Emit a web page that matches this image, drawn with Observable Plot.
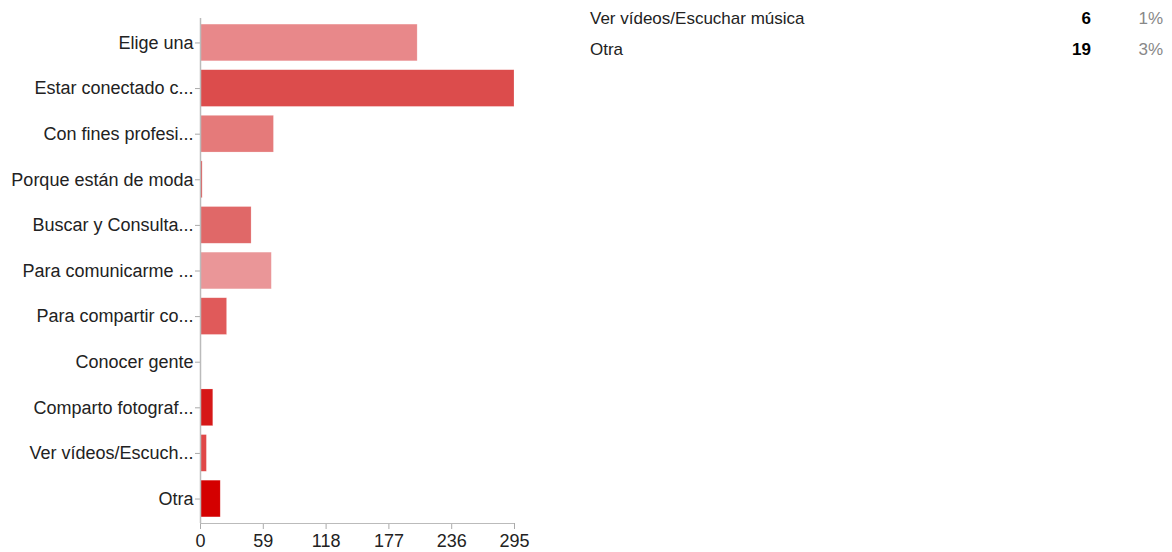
<!DOCTYPE html>
<html>
<head>
<meta charset="utf-8">
<script src="https://cdn.jsdelivr.net/npm/d3@7"></script>
<script src="https://cdn.jsdelivr.net/npm/@observablehq/plot@0.6"></script>
<style>
  html, body { margin: 0; padding: 0; background: #fff; }
  body { width: 1172px; height: 552px; position: relative; overflow: hidden; font-family: "Liberation Sans", Arial, sans-serif; }
  #chart { position: absolute; left: 0; top: 0; }
  #table { position: absolute; left: 590px; top: 6px; width: 575px; font-size: 17px; color: #222; }
  .row { position: relative; height: 31px; line-height: 26px; }
  .row .lab { position: absolute; left: 0; }
  .row .cnt { position: absolute; right: 74px; font-weight: bold; color: #000; }
  .row .pct { position: absolute; right: 2px; color: #888; }
</style>
</head>
<body>
<div id="chart"></div>
<div id="table"></div>
<script>
const categories = [
  "Elige una",
  "Estar conectado c...",
  "Con fines profesi...",
  "Porque están de moda",
  "Buscar y Consulta...",
  "Para comunicarme ...",
  "Para compartir co...",
  "Conocer gente",
  "Comparto fotograf...",
  "Ver vídeos/Escuch...",
  "Otra"
];
const values = [204, 295, 69, 2, 48, 67, 25, 0, 12, 6, 19];
const colors = ["#e8888a", "#dc4c4c", "#e57a7a", "#e05050", "#e06868", "#ea9698", "#e05a5a", "#ffffff", "#d61818", "#e04848", "#d40000"];
const xTicks = [0, 59, 118, 177, 236, 295];

const tableLabels = ["Ver vídeos/Escuchar música", "Otra"];
const tableCounts = [6, 19];
const tablePcts = ["1%", "3%"];

const data = categories.map((c, i) => ({cat: c, value: values[i], color: colors[i]}));

const W = 560, H = 552, mB = 29;
const plot = Plot.plot({
  width: W,
  height: H,
  marginLeft: 200,
  marginRight: 46,
  marginTop: 18,
  marginBottom: mB,
  style: {fontFamily: "'Liberation Sans', Arial, sans-serif", fontSize: "18px", color: "#222", background: "#fff"},
  x: {domain: [0, 295], ticks: xTicks, tickFormat: d => d, label: null},
  y: {domain: categories, label: null, paddingInner: 0.195, paddingOuter: 0.134, round: false},
  marks: [
    Plot.barX(data, {y: "cat", x: "value", fill: "color", stroke: "#fff", strokeOpacity: 0.35, strokeWidth: 0.6}),
    Plot.axisY({tickSize: 5, tickPadding: 2, stroke: "#aaa", fontSize: 18, fill: "#222", label: null}),
    Plot.axisX({ticks: xTicks, tickSize: 6, tickPadding: 5, stroke: "#aaa", fontSize: 18, fill: "#222", label: null}),
    Plot.ruleX([0], {stroke: "#bbb", strokeWidth: 1.5})
  ]
});
document.getElementById("chart").appendChild(plot);

// bottom axis baseline drawn through the x scale
const xs = plot.scale("x");
d3.select(plot).append("line")
  .attr("x1", xs.apply(0)).attr("x2", xs.apply(295))
  .attr("y1", H - mB + 0.5).attr("y2", H - mB + 0.5)
  .attr("stroke", "#bbb").attr("stroke-width", 1.2);

const table = document.getElementById("table");
tableLabels.forEach((l, i) => {
  const r = document.createElement("div");
  r.className = "row";
  r.innerHTML = `<span class="lab">${l}</span><span class="cnt">${tableCounts[i]}</span><span class="pct">${tablePcts[i]}</span>`;
  table.appendChild(r);
});
</script>
</body>
</html>
